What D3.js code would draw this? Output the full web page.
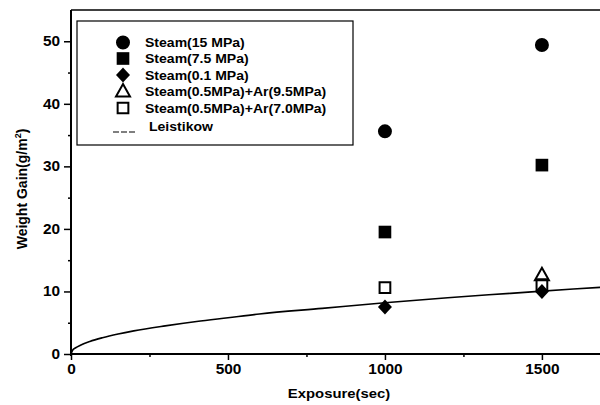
<!DOCTYPE html>
<html>
<head>
<meta charset="utf-8">
<script src="https://cdn.jsdelivr.net/npm/d3@7"></script>
<style>
  html, body { margin: 0; padding: 0; background: #fff; }
  svg { display: block; }
  text { font-family: "Liberation Sans", Arial, sans-serif; font-weight: bold; fill: #000; }
</style>
</head>
<body>
<svg id="chart" width="600" height="405"></svg>
<script>
// Exposure times (sec) at which samples were weighed
const exposure = [1000, 1500];

// Weight gain (g/m^2) per test atmosphere
const steam15 = [35.6, 49.4];
const steam75 = [19.5, 30.2];
const steam01 = [7.5, 10.0];
const steamAr95 = [null, 12.6];
const steamAr70 = [10.6, 11.1];

// Leistikow correlation curve, read as (time, gain) pairs
const leistikowT = [0, 5, 15, 30, 60, 100, 150, 200, 300, 400, 500, 600, 800, 1000, 1200, 1400, 1600, 1700];
const leistikowW = [0, 0.6, 1.0, 1.4, 2.0, 2.6, 3.2, 3.7, 4.5, 5.2, 5.8, 6.4, 7.3, 8.2, 9.0, 9.7, 10.4, 10.7];

const xTicks = [0, 500, 1000, 1500];
const xMinorTicks = [250, 750, 1250];
const yTicks = [0, 10, 20, 30, 40, 50];
const yMinorTicks = [5, 15, 25, 35, 45];

const legendLabels = [
  "Steam(15 MPa)",
  "Steam(7.5 MPa)",
  "Steam(0.1 MPa)",
  "Steam(0.5MPa)+Ar(9.5MPa)",
  "Steam(0.5MPa)+Ar(7.0MPa)",
  "Leistikow"
];

const svg = d3.select("#chart");
const mLeft = 71, mRight = 600, mTop = 10, mBottom = 354;
const stretch = "scale(1.1,1)";

const x = d3.scaleLinear().domain([0, 1685]).range([mLeft, mRight]);
const y = d3.scaleLinear().domain([0, 55]).range([mBottom, mTop]);

// Leistikow curve
const curvePts = leistikowT.map((t, i) => [t, leistikowW[i]]);
svg.append("defs").append("clipPath").attr("id", "plotClip")
  .append("rect").attr("x", mLeft).attr("y", mTop).attr("width", mRight - mLeft).attr("height", mBottom - mTop);
svg.append("path")
  .datum(curvePts)
  .attr("clip-path", "url(#plotClip)")
  .attr("fill", "none")
  .attr("stroke", "#000")
  .attr("stroke-width", 1.6)
  .attr("d", d3.line().x(d => x(d[0])).y(d => y(d[1])).curve(d3.curveMonotoneX));

// frame top edge
svg.append("line")
  .attr("x1", mLeft).attr("x2", mRight).attr("y1", mTop).attr("y2", mTop)
  .attr("stroke", "#000").attr("stroke-width", 1.5);

// Axes
const xAxis = svg.append("g").attr("transform", `translate(0,${mBottom})`)
  .call(d3.axisBottom(x).tickValues(xTicks).tickSize(6).tickPadding(4).tickFormat(d3.format("d")));
svg.append("g").attr("transform", `translate(0,${mBottom})`)
  .call(d3.axisBottom(x).tickValues(xMinorTicks).tickSize(3).tickFormat(""))
  .call(g => g.select(".domain").remove());
const yAxis = svg.append("g").attr("transform", `translate(${mLeft},0)`)
  .call(d3.axisLeft(y).tickValues(yTicks).tickSize(7).tickPadding(3).tickFormat(d3.format("d")));
svg.append("g").attr("transform", `translate(${mLeft},0)`)
  .call(d3.axisLeft(y).tickValues(yMinorTicks).tickSize(3).tickFormat(""))
  .call(g => g.select(".domain").remove());

svg.selectAll(".domain").attr("stroke-width", 2).attr("stroke", "#000");
svg.selectAll(".tick line").attr("stroke-width", 1.5).attr("stroke", "#000");
svg.selectAll(".tick text")
  .style("font-size", "14px")
  .style("font-family", "Liberation Sans, Arial, sans-serif")
  .style("font-weight", "bold")
  .attr("transform", stretch);
xAxis.selectAll(".domain").attr("d", `M${mLeft},0H${mRight}`);
yAxis.selectAll(".domain").attr("d", `M0,${mTop}V${mBottom + 2}`);

// Axis titles
svg.append("text")
  .attr("transform", `translate(${339},${398}) ${stretch}`)
  .attr("text-anchor", "middle")
  .style("font-size", "13.5px")
  .text("Exposure(sec)");

const yt = svg.append("text")
  .attr("transform", `translate(27,${189}) rotate(-90)`)
  .attr("text-anchor", "middle")
  .style("font-size", "14px");
yt.append("tspan").text("Weight Gain(g/m");
yt.append("tspan").attr("dy", -6).style("font-size", "9px").text("2");
yt.append("tspan").attr("dy", 6).text(")");

// Marker shapes
const sym = {
  circle: d3.symbol().type(d3.symbolCircle).size(154),
  square: d3.symbol().type(d3.symbolSquare).size(160),
  diamond: () => "M0,-7.5L7,0L0,7.5L-7,0Z",
  triangle: () => "M0,-7.5L7,5L-7,5Z",
  osquare: d3.symbol().type(d3.symbolSquare).size(115)
};

const series = [
  { vals: steam15, shape: "circle", filled: true },
  { vals: steam75, shape: "square", filled: true },
  { vals: steam01, shape: "diamond", filled: true },
  { vals: steamAr95, shape: "triangle", filled: false },
  { vals: steamAr70, shape: "osquare", filled: false }
];

function drawMarker(g, shape, filled) {
  const p = g.append("path").attr("d", sym[shape]());
  if (filled) p.attr("fill", "#000").attr("stroke", "none");
  else p.attr("fill", "none").attr("stroke", "#000").attr("stroke-width", 2);
  return p;
}

series.forEach(s => {
  exposure.forEach((t, i) => {
    if (s.vals[i] == null) return;
    const g = svg.append("g").attr("transform", `translate(${x(t)},${y(s.vals[i])})`);
    drawMarker(g, s.shape, s.filled);
  });
});

// Legend
const lg = svg.append("g");
lg.append("rect")
  .attr("x", 77).attr("y", 21).attr("width", 276).attr("height", 124)
  .attr("fill", "none").attr("stroke", "#000").attr("stroke-width", 1.2);

const rowY = [42.5, 58.5, 75, 91.5, 108, 126];
legendLabels.forEach((lab, i) => {
  const g = lg.append("g").attr("transform", `translate(123,${rowY[i]})`);
  if (i < series.length) {
    drawMarker(g, series[i].shape, series[i].filled);
    g.append("text").attr("transform", `translate(22,4.5) scale(1.08,1)`).style("font-size", "13px").text(lab);
  } else {
    g.append("line").attr("x1", -10).attr("x2", 14).attr("y1", 6).attr("y2", 6)
      .attr("stroke", "#000").attr("stroke-width", 1.2).attr("stroke-dasharray", "6,2");
    g.append("text").attr("transform", `translate(26,4.5) scale(1.08,1)`).style("font-size", "13px").text(lab);
  }
});
</script>
</body>
</html>
